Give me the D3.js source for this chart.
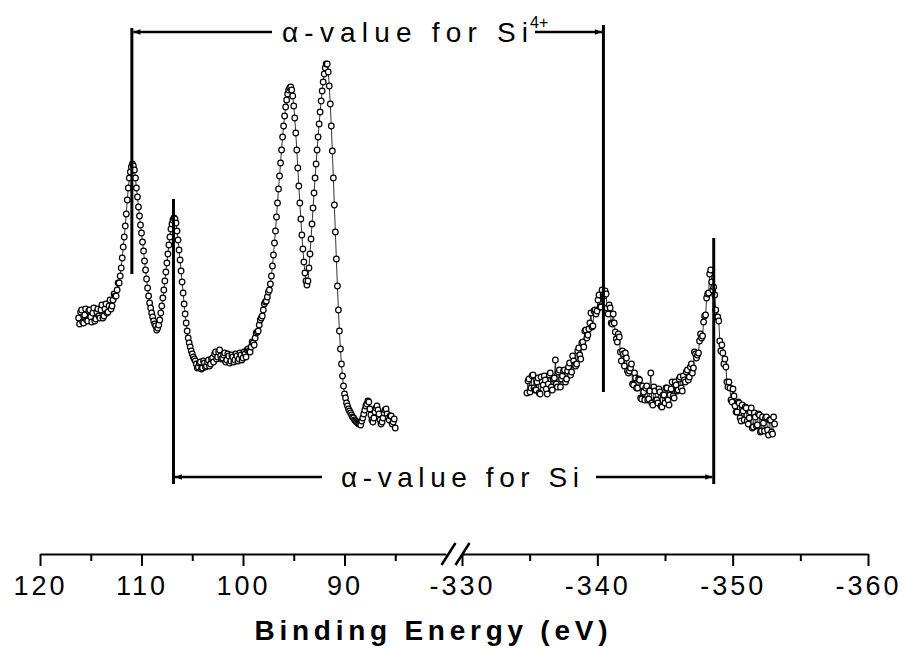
<!DOCTYPE html>
<html>
<head>
<meta charset="utf-8">
<script src="https://cdnjs.cloudflare.com/ajax/libs/d3/7.8.5/d3.min.js"></script>
<style>
  body { margin: 0; background: #fff; }
  svg { display: block; font-family: "Liberation Sans", Arial, sans-serif; }
</style>
</head>
<body>
<script>
// spectra: [binding energy (eV), counts (a.u.)]
const leftSeries = [
  [116.2,132],[116.0,138],[115.8,128],[115.6,135],[115.4,130],[115.2,139],[115.0,133],[114.8,137],[114.6,129],[114.4,138],
  [114.2,134],[114.0,140],[113.8,132],[113.6,141],[113.4,137],[113.2,144],[113.0,141],[112.8,150],[112.6,154],[112.4,160],
  [112.2,167],[112.1,174],[112.0,182],[111.9,192],[111.8,203],[111.7,213],[111.6,224],[111.5,236],[111.4,250],[111.3,262],
  [111.2,272],[111.1,278],[111.0,283],[110.9,286],[110.8,284],[110.7,280],[110.6,272],[110.5,262],[110.4,253],[110.3,243],
  [110.2,234],[110.1,225],[110.0,217],[109.9,208],[109.8,199],[109.7,189],[109.6,180],[109.5,171],[109.4,162],[109.3,154],
  [109.2,147],[109.0,137],[108.8,129],[108.6,124],[108.4,122],[108.2,130],[108.1,137],[108.0,144],[107.9,152],[107.8,160],
  [107.7,169],[107.6,178],[107.5,187],[107.4,196],[107.3,205],[107.2,213],[107.1,221],[107.0,226],[106.9,230],[106.8,232],
  [106.7,231],[106.6,227],[106.5,219],[106.4,210],[106.3,200],[106.2,190],[106.1,179],[106.0,168],[105.9,157],[105.8,146],
  [105.7,136],[105.6,127],[105.5,119],[105.4,112],[105.2,103],[105.0,96],[104.8,91],[104.6,86],[104.4,83],[104.2,88],
  [104.0,82],[103.8,87],[103.6,84],[103.4,90],[103.2,86],[103.0,92],[102.8,96],[102.6,91],[102.4,98],[102.2,94],
  [102.0,92],[101.8,97],[101.6,90],[101.4,94],[101.2,89],[101.0,93],[100.8,90],[100.6,94],[100.4,91],[100.2,95],
  [100.0,92],[99.8,96],[99.6,100],[99.4,99],[99.2,103],[99.0,107],[98.8,112],[98.6,118],[98.4,125],[98.2,132],
  [98.0,140],[97.8,148],[97.6,153],[97.4,160],[97.3,166],[97.2,174],[97.1,184],[97.0,195],[96.9,207],[96.8,219],
  [96.7,233],[96.6,247],[96.5,261],[96.4,274],[96.3,287],[96.2,300],[96.1,313],[96.0,324],[95.9,334],[95.8,343],
  [95.7,350],[95.6,356],[95.5,360],[95.4,362],[95.3,363],[95.2,360],[95.1,354],[95.0,344],[94.9,332],[94.8,317],
  [94.7,300],[94.6,282],[94.5,264],[94.4,247],[94.3,231],[94.2,215],[94.1,201],[94.0,188],[93.9,177],[93.8,169],
  [93.7,165],[93.6,169],[93.5,182],[93.4,196],[93.3,211],[93.2,226],[93.1,242],[93.0,257],[92.9,272],[92.8,286],
  [92.7,300],[92.6,313],[92.5,326],[92.4,338],[92.3,349],[92.2,359],[92.1,368],[92.0,376],[91.9,382],[91.8,386],
  [91.7,386],[91.6,378],[91.5,364],[91.4,346],[91.3,324],[91.2,299],[91.1,272],[91.0,245],[90.9,218],[90.8,191],
  [90.7,164],[90.6,140],[90.5,119],[90.4,101],[90.3,86],[90.2,74],[90.1,64],[90.0,56],[89.8,47],[89.6,41],
  [89.4,37],[89.2,33],[89.0,30],[88.8,28],[88.6,26],[88.4,25],[88.2,32],[88.0,40],[87.8,46],[87.6,48],
  [87.4,35],[87.2,28],[87.0,38],[86.8,44],[86.6,36],[86.4,26],[86.2,32],[86.0,40],[85.8,36],[85.6,30],
  [85.4,34],[85.2,28],[85.0,22]
];
// in-between points of the noisy stretches
const leftSeriesB = [
  [116.1,126],[115.9,140],[115.7,127],[115.5,141],[115.3,129],[115.1,140],[114.9,128],[114.7,142],[114.5,131],[114.3,141],
  [114.1,132],[113.9,145],[113.7,134],[113.5,146],[113.3,138],[113.1,150],[112.9,144],[112.7,156],[112.5,154],[112.3,167],
  [109.1,142],[108.9,133],[108.7,126],[108.5,120],[108.3,125],
  [105.3,107],[105.1,99],[104.9,93],[104.7,89],[104.5,82],[104.3,87],[104.1,81],[103.9,89],[103.7,83],[103.5,88],
  [103.3,84],[103.1,91],[102.9,88],[102.7,98],[102.5,93],[102.3,100],[102.1,91],[101.9,95],[101.7,88],[101.5,96],
  [101.3,87],[101.1,95],[100.9,88],[100.7,96],[100.5,89],[100.3,97],[100.1,90],[99.9,98],[99.7,93],[99.5,101],
  [99.3,98],[99.1,108],[98.9,105],[98.7,117],[98.5,119],[98.3,130],[98.1,134],[97.9,146],[97.7,149],[97.5,158],
  [89.9,52],[89.7,44],[89.5,39],[89.3,35],[89.1,32],[88.9,29],[88.7,27],[88.5,26],[88.3,29],[88.1,36],
  [87.9,44],[87.7,49],[87.5,41],[87.3,30],[87.1,32],[86.9,42],[86.7,40],[86.5,30],[86.3,28],[86.1,37],
  [85.9,41],[85.7,32],[85.5,34],[85.3,26],[85.1,31]
];

const rightSeries = [
  [-334.80,57],[-334.95,71],[-335.10,62],[-335.25,75],[-335.40,60],[-335.55,68],[-335.70,57],[-335.85,73],[-336.00,65],[-336.15,70],
  [-336.30,56],[-336.45,75],[-336.60,63],[-336.75,71],[-336.90,90],[-337.05,63],[-337.20,80],[-337.35,71],[-337.50,79],[-337.65,68],
  [-337.80,79],[-337.95,87],[-338.10,78],[-338.25,89],[-338.40,84],[-338.55,99],[-338.70,95],[-338.85,107],[-339.00,103],[-339.15,120],
  [-339.30,115],[-339.45,127],[-339.60,123],[-339.75,139],[-339.90,136],[-340.05,150],[-340.20,143],[-340.35,160],[-340.50,154],[-340.65,156],
  [-340.80,136],[-340.95,142],[-341.10,126],[-341.25,127],[-341.40,111],[-341.55,116],[-341.70,98],[-341.85,99],[-342.00,84],[-342.15,92],
  [-342.30,77],[-342.45,82],[-342.60,66],[-342.75,77],[-342.90,62],[-343.05,71],[-343.20,52],[-343.35,64],[-343.50,50],[-343.65,64],
  [-343.80,51],[-343.95,77],[-344.10,45],[-344.25,59],[-344.40,50],[-344.55,61],[-344.70,44],[-344.85,55],[-345.00,47],[-345.15,62],
  [-345.30,45],[-345.45,61],[-345.60,54],[-345.75,68],[-345.90,59],[-346.05,71],[-346.20,62],[-346.35,74],[-346.50,68],[-346.65,80],
  [-346.80,73],[-346.95,86],[-347.10,82],[-347.25,96],[-347.40,95],[-347.55,109],[-347.70,112],[-347.85,128],[-348.00,135],[-348.15,156],
  [-348.30,176],[-348.45,168],[-348.60,163],[-348.75,140],[-348.90,133],[-349.05,109],[-349.20,105],[-349.35,86],[-349.50,83],[-349.65,63],
  [-349.80,62],[-349.95,48],[-350.10,54],[-350.25,38],[-350.40,48],[-350.55,32],[-350.70,45],[-350.85,30],[-351.00,42],[-351.15,26],
  [-351.30,38],[-351.45,22],[-351.60,37],[-351.75,24],[-351.90,36],[-352.05,18],[-352.20,33],[-352.35,19],[-352.50,33],[-352.65,15],
  [-352.80,30],[-352.95,16],[-353.10,26]
];
const rightSeriesB = [
  [-334.875,69],[-335.025,58],[-335.175,74],[-335.325,62],[-335.475,60],[-335.625,72],[-335.775,56],[-335.925,68],[-336.075,74],[-336.225,61],
  [-336.375,66],[-336.525,77],[-336.675,60],[-336.825,72],[-336.975,66],[-337.125,78],[-337.275,63],[-337.425,74],[-337.575,80],[-337.725,71],
  [-337.875,83],[-338.025,75],[-338.175,94],[-338.325,85],[-338.475,86],[-338.625,102],[-338.775,91],[-338.925,108],[-339.075,119],[-339.225,112],
  [-339.375,121],[-339.525,137],[-339.675,124],[-339.825,140],[-339.975,139],[-340.125,155],[-340.275,143],[-340.425,155],[-340.575,159],[-340.725,142],
  [-340.875,145],[-341.025,127],[-341.175,136],[-341.325,118],[-341.475,108],[-341.625,113],[-341.775,89],[-341.925,96],[-342.075,97],[-342.225,79],
  [-342.375,79],[-342.525,86],[-342.675,65],[-342.825,72],[-342.975,62],[-343.125,70],[-343.275,51],[-343.425,58],[-343.575,62],[-343.725,50],
  [-343.875,59],[-344.025,47],[-344.175,63],[-344.325,50],[-344.475,47],[-344.625,58],[-344.775,43],[-344.925,55],[-345.075,62],[-345.225,50],
  [-345.375,55],[-345.525,68],[-345.675,52],[-345.825,65],[-345.975,60],[-346.125,73],[-346.275,59],[-346.425,70],[-346.575,78],[-346.725,70],
  [-346.875,83],[-347.025,77],[-347.175,98],[-347.325,92],[-347.475,97],[-347.625,116],[-347.775,114],[-347.925,134],[-348.075,152],[-348.225,157],
  [-348.375,180],[-348.525,160],[-348.675,155],[-348.825,133],[-348.975,129],[-349.125,99],[-349.275,97],[-349.425,91],[-349.575,68],[-349.725,68],
  [-349.875,50],[-350.025,61],[-350.175,44],[-350.325,38],[-350.475,47],[-350.625,29],[-350.775,39],[-350.925,43],[-351.075,29],[-351.225,32],
  [-351.375,42],[-351.525,23],[-351.675,33],[-351.825,25],[-351.975,35],[-352.125,19],[-352.275,27],[-352.425,32],[-352.575,20],[-352.725,30],
  [-352.875,18],[-353.025,33]
];

const leftTicks = [120, 110, 100, 90];
const leftMinor = [115, 105, 95, 85];
const rightTicks = [-330, -340, -350, -360];
const rightMinor = [-335, -345, -355];

// marker lines: [energy, top count, bottom count]
const si4Lines = [[110.95, 422, 176], [-340.45, 425, 58]];
const siLines = [[106.85, 251, -34], [-348.6, 212, -34]];
// count level of the two double arrows
const si4Arrow = 418;
const siArrow = -27;

const width = 904, height = 650;
const axisY = 554;

const svg = d3.select("body").append("svg")
  .attr("width", width)
  .attr("height", height);

// broken x axis: two linear pieces
const xLeft = d3.scaleLinear().domain([120, 80]).range([40, 446]);
const xRight = d3.scaleLinear().domain([-330, -360]).range([462, 868]);
const y = d3.scaleLinear().domain([0, 400]).range([450, 50]);

const defs = svg.append("defs");
defs.append("marker")
  .attr("id", "head")
  .attr("viewBox", "0 0 10 10")
  .attr("refX", 10).attr("refY", 5)
  .attr("markerWidth", 13).attr("markerHeight", 7)
  .attr("markerUnits", "userSpaceOnUse")
  .attr("orient", "auto")
  .append("path")
  .attr("d", "M0,1 L10,5 L0,9 Z")
  .attr("fill", "#000");

const byEnergy = (a, b) => b[0] - a[0];

// spectra
function drawSeries(data, x) {
  const line = d3.line().x(d => x(d[0])).y(d => y(d[1]));
  svg.append("path")
    .datum(data)
    .attr("fill", "none")
    .attr("stroke", "#000")
    .attr("stroke-width", 0.8)
    .attr("d", line);
  svg.append("g")
    .selectAll("circle")
    .data(data)
    .join("circle")
    .attr("cx", d => x(d[0]))
    .attr("cy", d => y(d[1]))
    .attr("r", 2.8)
    .attr("fill", "#fff")
    .attr("stroke", "#000")
    .attr("stroke-width", 1.2);
}
drawSeries(leftSeries.concat(leftSeriesB).sort(byEnergy), xLeft);
drawSeries(rightSeries.concat(rightSeriesB).sort(byEnergy), xRight);

// vertical marker lines
const xOf = e => (e > 0 ? xLeft(e) : xRight(e));
svg.append("g")
  .selectAll("line")
  .data(si4Lines.concat(siLines))
  .join("line")
  .attr("x1", d => xOf(d[0])).attr("x2", d => xOf(d[0]))
  .attr("y1", d => y(d[1])).attr("y2", d => y(d[2]))
  .attr("stroke", "#000")
  .attr("stroke-width", 3);

// labels with double arrows
function arrowLabel(level, lines, textX, textLen, gapL, gapR, sup) {
  const yy = y(level);
  svg.append("text")
    .attr("x", textX)
    .attr("y", yy + 10)
    .attr("textLength", textLen)
    .attr("lengthAdjust", "spacing")
    .style("font-size", "28px")
    .text("\u03b1-value for Si");
  const endX = textX + textLen;
  if (sup) {
    svg.append("text")
      .attr("x", endX + 2)
      .attr("y", yy - 4)
      .style("font-size", "16px")
      .text(sup);
  }
  const x0 = xOf(lines[0][0]), x1 = xOf(lines[1][0]);
  svg.append("line")
    .attr("x1", textX - gapL).attr("x2", x0 + 1.5)
    .attr("y1", yy).attr("y2", yy)
    .attr("stroke", "#000").attr("stroke-width", 2.5)
    .attr("marker-end", "url(#head)");
  svg.append("line")
    .attr("x1", endX + gapR).attr("x2", x1 - 1.5)
    .attr("y1", yy).attr("y2", yy)
    .attr("stroke", "#000").attr("stroke-width", 2.5)
    .attr("marker-end", "url(#head)");
}
arrowLabel(si4Arrow, si4Lines, 282, 246, 10, 7, "4+");
arrowLabel(siArrow, siLines, 341, 238, 19, 17, null);

// axes
function styleAxis(g) {
  g.select(".domain").attr("stroke-width", 2);
  g.selectAll(".tick line").attr("stroke-width", 2);
  g.selectAll(".tick text")
    .style("font-size", "27px")
    .style("letter-spacing", "3px")
    .attr("fill", "#000");
}
[[xLeft, leftTicks, leftMinor], [xRight, rightTicks, rightMinor]].forEach(([x, major, minor]) => {
  const gm = svg.append("g")
    .attr("transform", `translate(0,${axisY})`)
    .call(d3.axisBottom(x).tickValues(major).tickSize(12).tickSizeOuter(0)
      .tickPadding(10).tickFormat(d => String(d)));
  styleAxis(gm);
  const gn = svg.append("g")
    .attr("transform", `translate(0,${axisY})`)
    .call(d3.axisBottom(x).tickValues(minor).tickSize(7).tickFormat(""));
  gn.select(".domain").remove();
  gn.selectAll(".tick line").attr("stroke-width", 2);
});

// break marks
[xLeft.range()[1] + 2.5, xRight.range()[0] + 0.5].forEach(cx => {
  svg.append("line")
    .attr("x1", cx - 7).attr("y1", axisY + 11)
    .attr("x2", cx + 7).attr("y2", axisY - 11)
    .attr("stroke", "#000")
    .attr("stroke-width", 2.5);
});

svg.append("text")
  .attr("x", 431)
  .attr("y", 640)
  .attr("text-anchor", "middle")
  .attr("textLength", 353)
  .attr("lengthAdjust", "spacing")
  .style("font-size", "28px")
  .style("font-weight", "bold")
  .text("Binding Energy (eV)");
</script>
</body>
</html>
